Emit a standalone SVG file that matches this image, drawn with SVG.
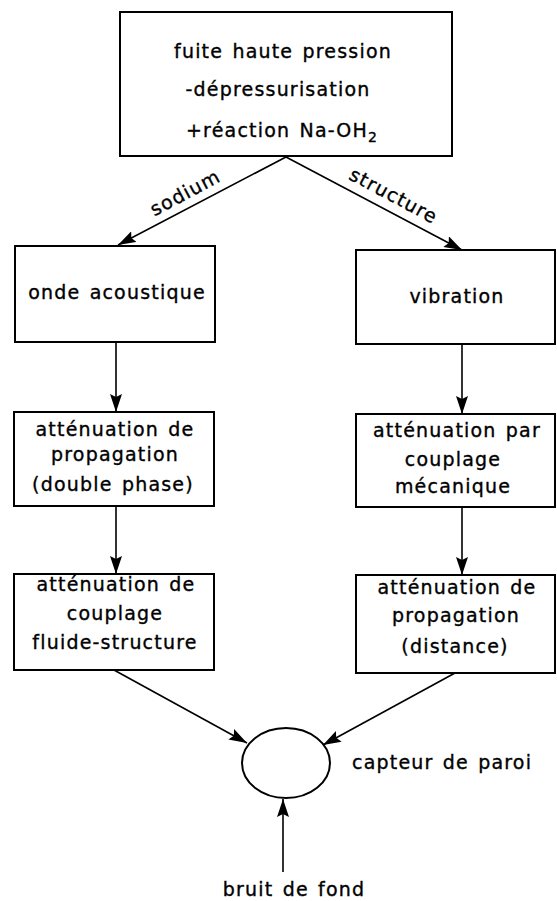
<svg xmlns="http://www.w3.org/2000/svg" width="557" height="901" viewBox="0 0 557 901">
<style>
  .box { fill: #fff; stroke: #000; stroke-width: 2; }
  .t { font-family: "DejaVu Sans", "Liberation Sans", sans-serif; font-size: 19px; letter-spacing: 1.2px; word-spacing: 2px; fill: #000; stroke: #000; stroke-width: 0.35; text-anchor: middle; }
  .l { text-anchor: start; }
  .c { fill: none; stroke: #000; stroke-width: 1.6; marker-end: url(#ah); }
</style>
<defs>
  <marker id="ah" markerUnits="userSpaceOnUse" markerWidth="18" markerHeight="12" refX="18" refY="6" orient="auto" viewBox="0 0 18 12">
    <path d="M0,0 L18,6 L0,12 L3,6 Z" fill="#000"/>
  </marker>
</defs>
<rect width="557" height="901" fill="#fff"/>

<g id="n-top">
  <rect class="box" x="120" y="12" width="332" height="144"/>
  <text class="t" x="283" y="58">fuite haute pression</text>
  <text class="t" x="278" y="96">-dépressurisation</text>
  <text class="t" x="282" y="137">+réaction Na-OH<tspan font-size="14" dy="5">2</tspan></text>
</g>

<g id="n-onde">
  <rect class="box" x="15" y="246" width="200" height="96"/>
  <text class="t" x="117" y="299">onde acoustique</text>
</g>
<g id="n-vibration">
  <rect class="box" x="356" y="250" width="199" height="94"/>
  <text class="t" x="457" y="303">vibration</text>
</g>

<g id="n-att-prop-dp">
  <rect class="box" x="14" y="412" width="200" height="94"/>
  <text class="t" x="115" y="436">atténuation de</text>
  <text class="t" x="115" y="461">propagation</text>
  <text class="t" x="113" y="491">(double phase)</text>
</g>
<g id="n-att-meca">
  <rect class="box" x="356" y="414" width="199" height="93"/>
  <text class="t" x="457" y="437">atténuation par</text>
  <text class="t" x="453" y="466">couplage</text>
  <text class="t" x="453" y="493">mécanique</text>
</g>

<g id="n-att-fs">
  <rect class="box" x="14" y="574" width="200" height="96"/>
  <text class="t" x="116" y="591">atténuation de</text>
  <text class="t" x="115" y="620">couplage</text>
  <text class="t" x="115" y="649">fluide-structure</text>
</g>
<g id="n-att-dist">
  <rect class="box" x="356" y="575" width="199" height="98"/>
  <text class="t" x="457" y="594">atténuation de</text>
  <text class="t" x="456" y="622">propagation</text>
  <text class="t" x="455" y="653">(distance)</text>
</g>

<g id="n-capteur">
  <ellipse class="box" cx="286" cy="763" rx="44" ry="35"/>
  <text class="t l" x="352" y="769">capteur de paroi</text>
</g>

<g id="n-bruit">
  <text class="t" x="294" y="896">bruit de fond</text>
</g>

<g id="connectors">
  <line class="c" x1="286" y1="157" x2="118" y2="245"/>
  <line class="c" x1="286" y1="157" x2="462" y2="250"/>
  <line class="c" x1="116" y1="342" x2="116" y2="412"/>
  <line class="c" x1="462" y1="344" x2="462" y2="414"/>
  <line class="c" x1="116" y1="506" x2="116" y2="574"/>
  <line class="c" x1="462" y1="507" x2="462" y2="575"/>
  <line class="c" x1="114" y1="670" x2="247" y2="743"/>
  <line class="c" x1="455" y1="673" x2="323" y2="745"/>
  <line class="c" x1="283" y1="872" x2="283" y2="799"/>
  <text class="t" transform="translate(186,194) rotate(-28)" x="0" y="5">sodium</text>
  <text class="t" transform="translate(393,197) rotate(28)" x="0" y="5">structure</text>
</g>
</svg>
